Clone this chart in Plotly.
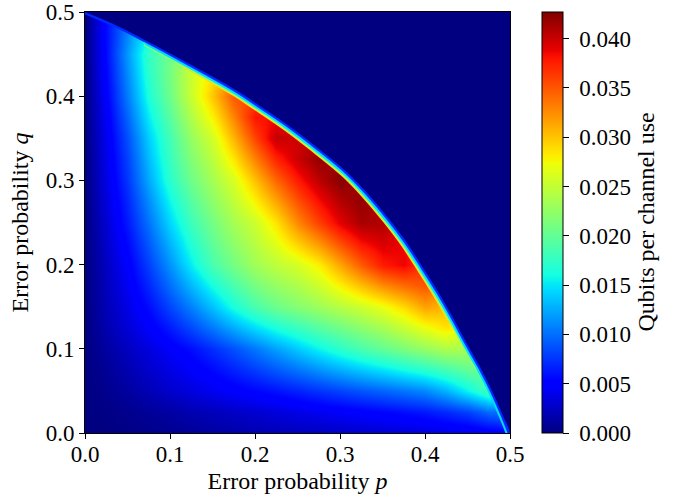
import plotly.graph_objects as go

# Grid of error probabilities
p_values = [0.0, 0.025, 0.05, 0.075, 0.1, 0.125, 0.15, 0.175, 0.2, 0.225, 0.25,
            0.275, 0.3, 0.325, 0.35, 0.375, 0.4, 0.425, 0.45, 0.475, 0.5]
q_values = [0.0, 0.025, 0.05, 0.075, 0.1, 0.125, 0.15, 0.175, 0.2, 0.225, 0.25,
            0.275, 0.3, 0.325, 0.35, 0.375, 0.4, 0.425, 0.45, 0.475, 0.5]

N = None
# Qubits per channel use, one row per q value (None = outside the non-zero region)
rate_q000 = [0, 0, 0.0002, 0.0004, 0.0006, 0.0009, 0.0012, 0.0015, 0.0018, 0.002, 0.0022, 0.0024, 0.0026, 0.0028, 0.003, 0.0032, 0.0034, 0.0037, 0.004, 0.0045, 0.005]
rate_q025 = [0, 0.0002, 0.0005, 0.0009, 0.0013, 0.0018, 0.0022, 0.0026, 0.003, 0.0034, 0.0038, 0.0042, 0.0046, 0.005, 0.0054, 0.0058, 0.0063, 0.007, 0.008, 0.0098, N]
rate_q050 = [0, 0.0005, 0.0012, 0.002, 0.0028, 0.0035, 0.0042, 0.0048, 0.0054, 0.006, 0.0067, 0.0074, 0.0081, 0.0088, 0.0095, 0.0102, 0.011, 0.0128, 0.0155, 0.0185, N]
rate_q075 = [0, 0.0008, 0.0018, 0.0028, 0.0037, 0.0046, 0.0056, 0.0067, 0.0078, 0.009, 0.0102, 0.0114, 0.0126, 0.0137, 0.0148, 0.0159, 0.017, 0.0184, 0.020, N, N]
rate_q100 = [0, 0.0012, 0.0024, 0.0035, 0.0046, 0.0058, 0.0072, 0.0087, 0.0103, 0.012, 0.0138, 0.0155, 0.0171, 0.0186, 0.020, 0.0213, 0.0226, 0.0238, N, N, N]
rate_q125 = [0, 0.0017, 0.0032, 0.0047, 0.0064, 0.0083, 0.0104, 0.0125, 0.0145, 0.0163, 0.0178, 0.0193, 0.0207, 0.0221, 0.0235, 0.0252, 0.027, 0.0285, N, N, N]
rate_q150 = [0, 0.002, 0.0038, 0.0058, 0.0082, 0.0107, 0.0135, 0.0163, 0.0187, 0.0205, 0.0218, 0.023, 0.0243, 0.0255, 0.027, 0.029, 0.0315, N, N, N, N]
rate_q175 = [0, 0.0022, 0.0044, 0.0069, 0.0099, 0.013, 0.0161, 0.0187, 0.021, 0.0226, 0.0239, 0.0255, 0.0278, 0.0301, 0.0324, 0.0339, 0.035, N, N, N, N]
rate_q200 = [0, 0.0024, 0.0049, 0.008, 0.0115, 0.0152, 0.0187, 0.021, 0.0232, 0.0247, 0.026, 0.028, 0.0313, 0.0347, 0.0377, 0.0387, N, N, N, N, N]
rate_q225 = [0, 0.0027, 0.0056, 0.0091, 0.0129, 0.0166, 0.0199, 0.0223, 0.0244, 0.0266, 0.0294, 0.032, 0.0352, 0.038, 0.0394, N, N, N, N, N, N]
rate_q250 = [0, 0.003, 0.0064, 0.0102, 0.0143, 0.018, 0.021, 0.0235, 0.0255, 0.0285, 0.0327, 0.036, 0.039, 0.0412, 0.041, N, N, N, N, N, N]
rate_q275 = [0, 0.0034, 0.007, 0.0113, 0.0157, 0.0193, 0.0223, 0.0249, 0.0279, 0.0314, 0.0353, 0.0383, 0.0408, 0.042, N, N, N, N, N, N, N]
rate_q300 = [0, 0.0037, 0.0077, 0.0125, 0.0171, 0.0206, 0.0235, 0.0262, 0.0302, 0.0343, 0.0378, 0.0405, 0.0425, N, N, N, N, N, N, N, N]
rate_q325 = [0, 0.0039, 0.0082, 0.0133, 0.0178, 0.0216, 0.0247, 0.0285, 0.033, 0.0373, 0.040, 0.042, N, N, N, N, N, N, N, N, N]
rate_q350 = [0, 0.0041, 0.0088, 0.0141, 0.0184, 0.0226, 0.0259, 0.0308, 0.0358, 0.0402, N, N, N, N, N, N, N, N, N, N, N]
rate_q375 = [0, 0.0045, 0.0097, 0.0153, 0.0195, 0.024, 0.028, 0.033, 0.038, N, N, N, N, N, N, N, N, N, N, N, N]
rate_q400 = [0, 0.0049, 0.0107, 0.0165, 0.0206, 0.0253, 0.030, 0.035, N, N, N, N, N, N, N, N, N, N, N, N, N]
rate_q425 = [0, 0.0053, 0.0113, 0.0172, 0.021, 0.0255, N, N, N, N, N, N, N, N, N, N, N, N, N, N, N]
rate_q450 = [0, 0.0056, 0.0119, 0.0177, N, N, N, N, N, N, N, N, N, N, N, N, N, N, N, N, N]
rate_q475 = [0, 0.0057, N, N, N, N, N, N, N, N, N, N, N, N, N, N, N, N, N, N, N]
rate_q500 = [0, N, N, N, N, N, N, N, N, N, N, N, N, N, N, N, N, N, N, N, N]

rate_rows = [rate_q000, rate_q025, rate_q050, rate_q075, rate_q100, rate_q125, rate_q150,
             rate_q175, rate_q200, rate_q225, rate_q250, rate_q275, rate_q300, rate_q325,
             rate_q350, rate_q375, rate_q400, rate_q425, rate_q450, rate_q475, rate_q500]

# Outer edge of the non-zero region
edge_p = [0.0, 0.037, 0.072, 0.12, 0.178, 0.202, 0.237, 0.272, 0.308, 0.332, 0.357,
          0.378, 0.398, 0.416, 0.433, 0.449, 0.465, 0.479, 0.492, 0.5]
edge_q = [0.5, 0.484, 0.466, 0.44, 0.407, 0.391, 0.367, 0.34, 0.31, 0.285, 0.255,
          0.227, 0.196, 0.167, 0.137, 0.107, 0.078, 0.05, 0.02, 0.0]

cbar_ticks = [0.0, 0.005, 0.01, 0.015, 0.02, 0.025, 0.03, 0.035, 0.04]
axis_ticks = [0.0, 0.1, 0.2, 0.3, 0.4, 0.5]
z_max = 0.0427

# matplotlib "jet"
jet = [
    [0.0, "rgb(0,0,128)"], [0.11, "rgb(0,0,255)"], [0.125, "rgb(0,0,255)"],
    [0.34, "rgb(0,219,255)"], [0.35, "rgb(0,230,247)"], [0.375, "rgb(21,255,226)"],
    [0.64, "rgb(239,255,8)"], [0.65, "rgb(247,245,0)"], [0.66, "rgb(255,236,0)"],
    [0.89, "rgb(255,19,0)"], [0.91, "rgb(232,0,0)"], [1.0, "rgb(128,0,0)"],
]

FONT = "Liberation Serif"
FS_TICK = 23
FS_TITLE = 24

fig = go.Figure()
fig.add_trace(go.Heatmap(
    x=p_values, y=q_values, z=rate_rows,
    zsmooth="best", connectgaps=True,
    colorscale=jet, zmin=0, zmax=z_max,
    colorbar=dict(
        thickness=21, thicknessmode="pixels", len=1.0, lenmode="fraction",
        x=1.0753, xanchor="left", xpad=0, y=0.5, yanchor="middle", ypad=0,
        outlinewidth=1, outlinecolor="black",
        ticks="outside", ticklen=6, tickwidth=1, tickcolor="black",
        tickvals=cbar_ticks, ticktext=["\u00a0" + f"{v:.3f}" for v in cbar_ticks],
        tickfont=dict(family=FONT, size=FS_TICK, color="black"),
    ),
    hoverinfo="skip",
))

# steep fall-off at the edge of the region
def edge_segment(lo, hi):
    idx = [i for i, p in enumerate(edge_p) if lo <= p <= hi]
    return [edge_p[i] for i in idx], [edge_q[i] for i in idx]

for lo, hi, color, width in [(0.12, 0.44, "rgb(255,225,0)", 13),
                             (0.07, 0.47, "rgb(140,255,110)", 11),
                             (0.07, 0.5, "rgb(0,220,255)", 8.5),
                             (0.0, 0.5, "rgb(0,40,255)", 4.5)]:
    sx, sy = edge_segment(lo, hi)
    fig.add_trace(go.Scatter(x=sx, y=sy, mode="lines",
                             line=dict(color=color, width=width, shape="spline"),
                             hoverinfo="skip", showlegend=False))

# zero region
fig.add_trace(go.Scatter(x=edge_p + [0.5, 0.6, 0.6, -0.05, -0.05],
                         y=edge_q + [-0.05, -0.05, 0.6, 0.6, 0.5],
                         mode="lines", fill="toself", fillcolor="rgb(0,0,128)",
                         line=dict(width=0, color="rgb(0,0,128)", shape="spline"),
                         hoverinfo="skip", showlegend=False))

axis_common = dict(
    range=[0, 0.5], tickvals=axis_ticks, ticktext=[f"{v:.1f}" for v in axis_ticks],
    ticks="outside", ticklen=5, tickwidth=1, tickcolor="black",
    showline=True, mirror=True, linecolor="black", linewidth=1,
    showgrid=False, zeroline=False, automargin=False, ticklabeloverflow="allow",
    tickfont=dict(family=FONT, size=FS_TICK, color="black"),
)
fig.update_layout(
    template="none",
    width=682, height=502,
    margin=dict(l=85, r=172, t=12, b=69, autoexpand=False),
    paper_bgcolor="white", plot_bgcolor="white",
    font=dict(family=FONT, size=FS_TICK, color="black"),
    xaxis=dict(**axis_common, ticklabelstandoff=-5,
               title=dict(text="Error probability <i>p</i>", standoff=6,
                          font=dict(family=FONT, size=FS_TITLE))),
    yaxis=dict(**axis_common,
               title=dict(text="Error probability <i>q</i>", standoff=10,
                          font=dict(family=FONT, size=FS_TITLE))),
    annotations=[dict(text="Qubits per channel use", textangle=-90,
                      xref="paper", yref="paper", x=(645 - 85) / 425, y=0.5,
                      xanchor="center", yanchor="middle", showarrow=False,
                      font=dict(family=FONT, size=FS_TITLE, color="black"))],
    showlegend=False,
)
fig.write_html("out.html", config={"displayModeBar": False},
               post_script="document.body.style.margin='0px';")
